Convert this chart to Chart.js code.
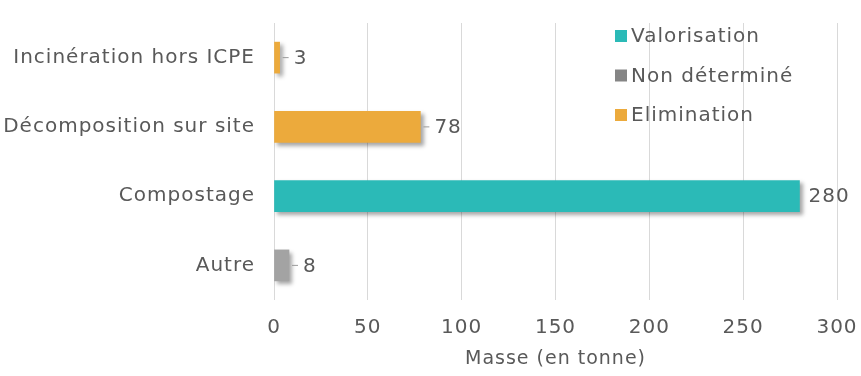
<!DOCTYPE html>
<html>
<head>
<meta charset="utf-8">
<script src="https://cdn.jsdelivr.net/npm/chart.js@4"></script>
<style>
  html, body { margin: 0; padding: 0; background: #fff; }
  #wrap { width: 861px; height: 376px; }
</style>
</head>
<body>
<div id="wrap"><canvas id="chart" width="861" height="376"></canvas></div>
<script>
// categories (top to bottom)
var categories = ['Incinération hors ICPE', 'Décomposition sur site', 'Compostage', 'Autre'];

// series values (one per category, null where the series has no bar)
var valorisation = [null, null, 280, null];
var nonDetermine = [null, null, null, 8];
var elimination  = [3, 78, null, null];

// x axis ticks
var xTicks = [0, 50, 100, 150, 200, 250, 300];

var textColor = '#595959';
var fontFamily = '"DejaVu Sans", sans-serif';

// wider text, closer to the original font
// (set on every update/draw because resizing the canvas resets the context)
var spacingPlugin = {
    id: 'letterSpacing',
    beforeUpdate: function(chart) { chart.ctx.letterSpacing = '1px'; },
    beforeDraw: function(chart) { chart.ctx.letterSpacing = '1px'; }
};

// drop shadow under bars
var shadowPlugin = {
    id: 'barShadow',
    beforeDatasetsDraw: function(chart) {
        var ctx = chart.ctx;
        ctx.save();
        ctx.shadowColor = 'rgba(0,0,0,0.35)';
        ctx.shadowBlur = 4;
        ctx.shadowOffsetX = 3;
        ctx.shadowOffsetY = 3;
    },
    afterDatasetsDraw: function(chart) {
        chart.ctx.restore();
    }
};

// value labels with a small leader line
var labelPlugin = {
    id: 'valueLabels',
    afterDatasetsDraw: function(chart) {
        var ctx = chart.ctx;
        ctx.save();
        ctx.font = '20px ' + fontFamily;
        ctx.fillStyle = textColor;
        ctx.textBaseline = 'middle';
        ctx.textAlign = 'left';
        chart.data.datasets.forEach(function(ds, di) {
            var meta = chart.getDatasetMeta(di);
            meta.data.forEach(function(bar, i) {
                var v = ds.data[i];
                if (v === null || v === undefined) return;
                var x = bar.x, y = bar.y;
                if (v < 100) {
                    ctx.strokeStyle = '#9a9a9a';
                    ctx.lineWidth = 1;
                    ctx.beginPath();
                    ctx.moveTo(x + 3, y);
                    ctx.lineTo(x + 9, y);
                    ctx.stroke();
                }
                ctx.fillText(String(v), x + (v < 100 ? 14 : 9), y + 1);
            });
        });
        ctx.restore();
    }
};

// legend drawn inside the plot, top right
var legendPlugin = {
    id: 'innerLegend',
    afterDraw: function(chart) {
        var ctx = chart.ctx;
        var x0 = 615, y0 = 36, step = 39.5, box = 12;
        ctx.save();
        ctx.font = '20px ' + fontFamily;
        ctx.textBaseline = 'middle';
        ctx.textAlign = 'left';
        chart.data.datasets.forEach(function(ds, i) {
            var y = y0 + i * step;
            ctx.fillStyle = ds.legendColor || ds.backgroundColor;
            ctx.fillRect(x0, y - box / 2, box, box);
            ctx.fillStyle = textColor;
            ctx.fillText(ds.label, x0 + box + 4, y + 1);
        });
        ctx.restore();
    }
};

var ctx = document.getElementById('chart').getContext('2d');

new Chart(ctx, {
    type: 'bar',
    data: {
        labels: categories,
        datasets: [
            { label: 'Valorisation', data: valorisation, backgroundColor: '#2bbab7' },
            { label: 'Non déterminé', data: nonDetermine, backgroundColor: '#a3a3a3', legendColor: '#858585' },
            { label: 'Elimination', data: elimination, backgroundColor: '#ecaa3c' }
        ]
    },
    options: {
        indexAxis: 'y',
        responsive: false,
        animation: false,
        layout: { padding: { top: 5, right: 24, left: 0, bottom: 0 } },
        datasets: {
            bar: { barThickness: 31, borderWidth: 0 }
        },
        plugins: {
            legend: { display: false },
            tooltip: { enabled: false }
        },
        scales: {
            x: {
                min: 0,
                max: 300,
                afterBuildTicks: function(scale) {
                    scale.ticks = xTicks.map(function(v) { return { value: v }; });
                },
                afterFit: function(scale) {
                    scale.height = 76;
                    scale.paddingLeft = 0;
                    scale.paddingRight = 0;
                },
                grid: { color: '#d9d9d9', drawTicks: false, lineWidth: 1 },
                border: { display: false },
                ticks: {
                    color: textColor,
                    font: { family: fontFamily, size: 20 },
                    padding: 16
                },
                title: {
                    display: true,
                    text: 'Masse (en tonne)',
                    color: textColor,
                    font: { family: fontFamily, size: 19 },
                    padding: { top: 2, bottom: 6 }
                }
            },
            y: {
                stacked: true,
                afterFit: function(scale) { scale.width = 274; },
                grid: { display: false },
                border: { display: false },
                ticks: {
                    color: textColor,
                    font: { family: fontFamily, size: 20 },
                    padding: 11
                }
            }
        }
    },
    plugins: [spacingPlugin, shadowPlugin, labelPlugin, legendPlugin]
});
</script>
</body>
</html>
